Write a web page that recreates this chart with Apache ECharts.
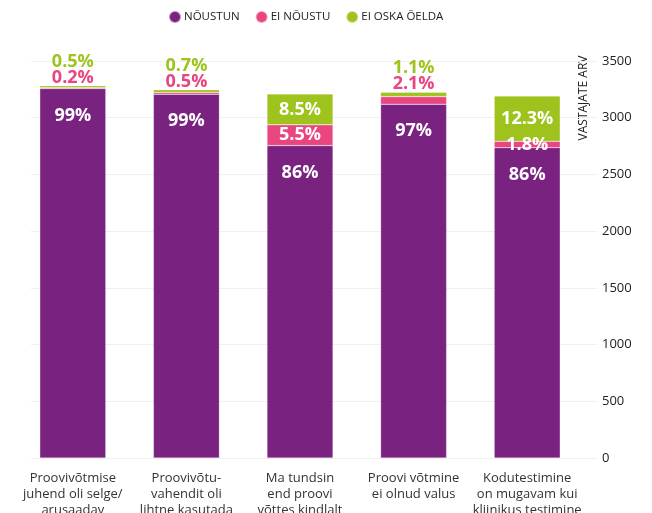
<!DOCTYPE html>
<html lang="et">
<head>
    <meta charset="UTF-8">
    <title>Vastajate arv</title>
    <script src="https://cdn.jsdelivr.net/npm/echarts@6/dist/echarts.min.js"></script>
    <style>
        html, body {margin: 0; padding: 0; background: #fff;}
        #main {width: 652px; height: 513px;}
    </style>
</head>
<body>
    <div id="main"></div>
    <script>
    // kategooriad (x telg)
    var categories = [
        'Proovivõtmise\njuhend oli selge/\narusaadav',
        'Proovivõtu-\nvahendit oli\nlihtne kasutada',
        'Ma tundsin\nend proovi\nvõttes kindlalt',
        'Proovi võtmine\nei olnud valus',
        'Kodutestimine\non mugavam kui\nkliinikus testimine'
    ];
    // vastajate arv
    var agree = [3257, 3207, 2754, 3119, 2736];
    var disagree = [7, 16, 183, 67, 56];
    var unsure = [17, 23, 273, 38, 399];
    // protsendid siltideks
    var agreePct = [99, 99, 86, 97, 86];
    var disagreePct = [0.2, 0.5, 5.5, 2.1, 1.8];
    var unsurePct = [0.5, 0.7, 8.5, 1.1, 12.3];
    var yTicks = [0, 500, 1000, 1500, 2000, 2500, 3000, 3500];

    var purple = '#7a2280', pink = '#e94580', green = '#9dc31c';
    var font = '"Open Sans", sans-serif';

    var myChart = echarts.init(document.getElementById('main'));

    function isSmall(i) {
        return unsurePct[i] < 5;
    }

    var option = {
        animation: false,
        textStyle: {fontFamily: font},
        legend: {
            top: 5,
            left: 163,
            icon: 'circle',
            itemWidth: 12,
            itemHeight: 12,
            itemGap: 15,
            textStyle: {fontSize: 11.5, color: '#222', fontFamily: font, padding: [0, 0, 0, -2]},
            data: ['NÕUSTUN', 'EI NÕUSTU', 'EI OSKA ÕELDA']
        },
        grid: [
            {left: 31, right: 55, top: 61, bottom: 55, outerBoundsMode: 'none'},
            {left: 16, right: 68, top: 61, bottom: 55, outerBoundsMode: 'none'}
        ],
        xAxis: [
            {gridIndex: 0, type: 'value', show: false},
            {
                gridIndex: 1,
                type: 'category',
                data: categories,
                axisLine: {show: false},
                axisTick: {show: false},
                axisLabel: {
                    interval: 0,
                    margin: 12,
                    color: '#333',
                    fontSize: 13,
                    lineHeight: 16,
                    fontFamily: font
                }
            }
        ],
        yAxis: [
            {
                gridIndex: 0,
                type: 'value',
                position: 'right',
                min: yTicks[0],
                max: yTicks[yTicks.length - 1],
                interval: 500,
                axisLine: {show: false},
                axisTick: {show: false},
                axisLabel: {
                    margin: 5,
                    color: '#222',
                    fontSize: 13,
                    fontFamily: font,
                    formatter: function (v) { return String(v); }
                },
                splitLine: {lineStyle: {color: '#efefef', width: 1}}
            },
            {
                gridIndex: 1,
                type: 'value',
                min: 0,
                max: 3500,
                show: false,
                splitLine: {show: false}
            }
        ],
        graphic: [{
            type: 'text',
            x: 584,
            y: 98,
            rotation: Math.PI / 2,
            style: {
                text: 'VASTAJATE ARV',
                fill: '#222',
                font: '12px ' + font,
                align: 'center',
                verticalAlign: 'middle'
            }
        }],
        series: [
            {
                name: 'NÕUSTUN',
                type: 'bar',
                stack: 'kokku',
                xAxisIndex: 1,
                yAxisIndex: 1,
                barWidth: 66,
                itemStyle: {color: purple, borderColor: 'rgba(255,255,255,0.5)', borderWidth: 0.5},
                label: {
                    show: true,
                    position: 'insideTop',
                    distance: 18,
                    color: '#fff',
                    fontSize: 18,
                    fontWeight: 'bold',
                    fontFamily: font,
                    formatter: function (p) { return agreePct[p.dataIndex] + '%'; }
                },
                data: agree
            },
            {
                name: 'EI NÕUSTU',
                type: 'bar',
                stack: 'kokku',
                xAxisIndex: 1,
                yAxisIndex: 1,
                itemStyle: {color: pink, borderColor: 'rgba(255,255,255,0.5)', borderWidth: 0.5},
                data: disagree.map(function (v, i) {
                    return {
                        value: v,
                        label: {
                            show: !isSmall(i),
                            position: 'inside',
                            color: '#fff',
                            fontSize: 18,
                            fontWeight: 'bold',
                            fontFamily: font,
                            formatter: disagreePct[i] + '%'
                        }
                    };
                })
            },
            {
                name: 'EI OSKA ÕELDA',
                type: 'bar',
                stack: 'kokku',
                xAxisIndex: 1,
                yAxisIndex: 1,
                itemStyle: {color: green, borderColor: 'rgba(255,255,255,0.5)', borderWidth: 0.5},
                data: unsure.map(function (v, i) {
                    if (isSmall(i)) {
                        return {
                            value: v,
                            label: {
                                show: true,
                                position: 'top',
                                distance: 0,
                                formatter: '{g|' + unsurePct[i] + '%}\n{p|' + disagreePct[i] + '%}',
                                rich: {
                                    g: {color: green, fontSize: 18, fontWeight: 'bold', lineHeight: 16, fontFamily: font},
                                    p: {color: pink, fontSize: 18, fontWeight: 'bold', lineHeight: 16, fontFamily: font}
                                }
                            }
                        };
                    }
                    return {
                        value: v,
                        label: {
                            show: true,
                            position: 'inside',
                            color: '#fff',
                            fontSize: 18,
                            fontWeight: 'bold',
                            fontFamily: font,
                            formatter: unsurePct[i] + '%'
                        }
                    };
                })
            }
        ]
    };
    myChart.setOption(option);
    </script>
</body>
</html>
